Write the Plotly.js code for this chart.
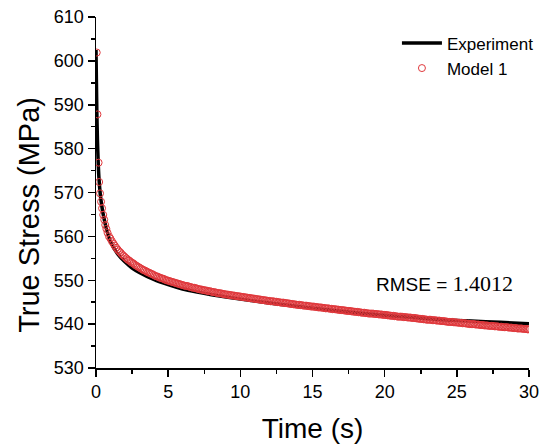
<!DOCTYPE html>
<html>
<head>
<meta charset="utf-8">
<script src="https://cdn.plot.ly/plotly-3.0.1.min.js"></script>
<style>html,body{margin:0;padding:0;background:#fff;}#chart{width:554px;height:447px;}</style>
</head>
<body>
<div id="chart"></div>
<script>
// Experiment curve
var expTime = [0, 0.03, 0.06, 0.1, 0.15, 0.2, 0.3, 0.4, 0.5, 0.7, 1.0, 1.5, 2, 2.5, 3, 4, 5, 6, 7, 8, 10, 12, 14, 16, 18, 20, 22, 24, 26, 28, 30];
var expStress = [602.5, 595, 588, 582, 577, 573.5, 569.5, 567, 565, 562, 558.8, 556.0, 554.2, 552.8, 551.8, 550.2, 549.0, 548.0, 547.3, 546.7, 545.7, 544.8, 544.0, 543.3, 542.6, 542.0, 541.5, 541.0, 540.7, 540.4, 540.1];

// Model 1 points
var modelTime = [0.05, 0.1, 0.18, 0.22, 0.28, 0.35, 0.42, 0.5, 0.57, 0.64, 0.72, 0.8, 0.9,
  1.0,1.1,1.2,1.3,1.4,1.5,1.6,1.7,1.8,1.9, 2.0,2.1,2.2,2.3,2.4,2.5,2.6,2.7,2.8,2.9,
  3.0,3.1,3.2,3.3,3.4,3.5,3.6,3.7,3.8,3.9, 4.0,4.1,4.2,4.3,4.4,4.5,4.6,4.7,4.8,4.9,
  5.0,5.1,5.2,5.3,5.4,5.5,5.6,5.7,5.8,5.9, 6.0,6.1,6.2,6.3,6.4,6.5,6.6,6.7,6.8,6.9,
  7.0,7.1,7.2,7.3,7.4,7.5,7.6,7.7,7.8,7.9, 8.0,8.1,8.2,8.3,8.4,8.5,8.6,8.7,8.8,8.9,
  9.0,9.1,9.2,9.3,9.4,9.5,9.6,9.7,9.8,9.9, 10.0,10.1,10.2,10.3,10.4,10.5,10.6,10.7,10.8,10.9,
  11.0,11.1,11.2,11.3,11.4,11.5,11.6,11.7,11.8,11.9, 12.0,12.1,12.2,12.3,12.4,12.5,12.6,12.7,12.8,12.9,
  13.0,13.1,13.2,13.3,13.4,13.5,13.6,13.7,13.8,13.9, 14.0,14.1,14.2,14.3,14.4,14.5,14.6,14.7,14.8,14.9,
  15.0,15.1,15.2,15.3,15.4,15.5,15.6,15.7,15.8,15.9, 16.0,16.1,16.2,16.3,16.4,16.5,16.6,16.7,16.8,16.9,
  17.0,17.1,17.2,17.3,17.4,17.5,17.6,17.7,17.8,17.9, 18.0,18.1,18.2,18.3,18.4,18.5,18.6,18.7,18.8,18.9,
  19.0,19.1,19.2,19.3,19.4,19.5,19.6,19.7,19.8,19.9, 20.0,20.1,20.2,20.3,20.4,20.5,20.6,20.7,20.8,20.9,
  21.0,21.1,21.2,21.3,21.4,21.5,21.6,21.7,21.8,21.9, 22.0,22.1,22.2,22.3,22.4,22.5,22.6,22.7,22.8,22.9,
  23.0,23.1,23.2,23.3,23.4,23.5,23.6,23.7,23.8,23.9, 24.0,24.1,24.2,24.3,24.4,24.5,24.6,24.7,24.8,24.9,
  25.0,25.1,25.2,25.3,25.4,25.5,25.6,25.7,25.8,25.9, 26.0,26.1,26.2,26.3,26.4,26.5,26.6,26.7,26.8,26.9,
  27.0,27.1,27.2,27.3,27.4,27.5,27.6,27.7,27.8,27.9, 28.0,28.1,28.2,28.3,28.4,28.5,28.6,28.7,28.8,28.9,
  29.0,29.1,29.2,29.3,29.4,29.5,29.6,29.7,29.8,29.9, 30.0];
var modelStress = [601.9, 587.8, 576.8, 572.4, 569.8, 567.9, 566.4, 564.9, 563.8, 562.6, 561.7, 560.8, 560.0,
  559.5,558.9,558.4,557.9,557.4,557.0,556.6,556.3,555.9,555.6, 555.3,555.0,554.7,554.5,554.2,554.0,553.8,553.5,553.3,553.1,
  552.9,552.7,552.5,552.3,552.2,552.0,551.8,551.7,551.5,551.4, 551.2,551.0,550.9,550.8,550.6,550.5,550.4,550.3,550.1,550.0,
  549.9,549.8,549.7,549.6,549.5,549.4,549.3,549.2,549.1,549.0, 548.9,548.8,548.7,548.7,548.6,548.5,548.4,548.3,548.3,548.2,
  548.1,548.0,547.9,547.9,547.8,547.7,547.7,547.6,547.5,547.5, 547.4,547.3,547.3,547.2,547.1,547.1,547.0,547.0,546.9,546.8,
  546.8,546.7,546.7,546.6,546.6,546.5,546.5,546.4,546.4,546.3, 546.3,546.2,546.2,546.1,546.1,546.0,546.0,545.9,545.9,545.8,
  545.8,545.7,545.7,545.6,545.6,545.5,545.5,545.4,545.4,545.3, 545.3,545.2,545.2,545.2,545.1,545.1,545.0,545.0,544.9,544.9,
  544.9,544.8,544.8,544.7,544.7,544.6,544.6,544.5,544.5,544.4, 544.4,544.4,544.3,544.3,544.2,544.2,544.2,544.1,544.1,544.0,
  544.0,544.0,543.9,543.9,543.8,543.8,543.8,543.7,543.7,543.6, 543.6,543.6,543.5,543.5,543.4,543.4,543.4,543.3,543.3,543.2,
  543.2,543.2,543.1,543.1,543.0,543.0,543.0,542.9,542.9,542.8, 542.8,542.8,542.7,542.7,542.6,542.6,542.6,542.5,542.5,542.4,
  542.4,542.4,542.4,542.3,542.3,542.3,542.2,542.2,542.2,542.1, 542.1,542.1,542.0,542.0,541.9,541.9,541.9,541.8,541.8,541.7,
  541.7,541.7,541.7,541.6,541.6,541.6,541.5,541.5,541.5,541.4, 541.4,541.4,541.3,541.3,541.2,541.2,541.2,541.1,541.1,541.0,
  541.0,541.0,541.0,540.9,540.9,540.9,540.8,540.8,540.8,540.7, 540.7,540.7,540.6,540.6,540.5,540.5,540.5,540.5,540.4,540.4,
  540.4,540.3,540.3,540.3,540.2,540.2,540.2,540.1,540.1,540.0, 540.0,540.0,540.0,539.9,539.9,539.9,539.8,539.8,539.8,539.7,
  539.7,539.7,539.6,539.6,539.6,539.6,539.5,539.5,539.5,539.4, 539.4,539.4,539.3,539.3,539.3,539.3,539.2,539.2,539.2,539.1,
  539.1,539.1,539.0,539.0,539.0,539.0,538.9,538.9,538.9,538.8, 538.8];

var xTicks = [0, 5, 10, 15, 20, 25, 30];
var yTicks = [530, 540, 550, 560, 570, 580, 590, 600, 610];
var xTitle = 'Time (s)';
var yTitle = 'True Stress (MPa)';
var rmseLabel = 'RMSE = ';
var rmseValue = '1.4012';

var FONT = 'Liberation Sans, Arial, sans-serif';

var traces = [
  {
    x: expTime, y: expStress, name: 'Experiment', type: 'scatter', mode: 'lines',
    line: {color: '#000000', width: 3.5, shape: 'spline', smoothing: 0.6}
  },
  {
    x: modelTime, y: modelStress, name: 'Model 1', type: 'scatter', mode: 'markers',
    marker: {symbol: 'circle-open', size: 7, color: '#e0383c', line: {width: 1, color: '#e0383c'}}
  }
];

var layout = {
  width: 554, height: 447,
  margin: {l: 96, r: 25, t: 17, b: 79},
  paper_bgcolor: '#ffffff', plot_bgcolor: '#ffffff',
  font: {family: FONT, color: '#000000', size: 18},
  showlegend: true,
  legend: {x: 0.695, y: 0.976, xanchor: 'left', yanchor: 'top', bgcolor: 'rgba(0,0,0,0)',
    font: {family: FONT, size: 17, color: '#000'}, tracegroupgap: 0, itemwidth: 40},
  xaxis: {
    range: [0, 30], tickvals: xTicks, ticktext: xTicks.map(String),
    ticks: 'outside', ticklen: 7, tickwidth: 1.5, tickcolor: '#000',
    showline: true, linewidth: 1.5, linecolor: '#000', showgrid: false, zeroline: false,
    minor: {dtick: 2.5, tick0: 0, ticks: 'outside', ticklen: 4, tickwidth: 1.5, tickcolor: '#000', showgrid: false},
    tickfont: {family: FONT, size: 18},
    title: {text: xTitle, font: {family: FONT, size: 28}, standoff: 17}
  },
  yaxis: {
    range: [530, 610], tickvals: yTicks, ticktext: yTicks.map(String),
    ticks: 'outside', ticklen: 7, tickwidth: 1.5, tickcolor: '#000',
    showline: true, linewidth: 1.5, linecolor: '#000', showgrid: false, zeroline: false,
    minor: {dtick: 5, tick0: 530, ticks: 'outside', ticklen: 4, tickwidth: 1.5, tickcolor: '#000', showgrid: false},
    tickfont: {family: FONT, size: 18}
  },
  annotations: [
    {
      xref: 'paper', yref: 'paper', x: -0.155, y: 0.436, xanchor: 'center', yanchor: 'middle', showarrow: false,
      textangle: -90, text: yTitle, font: {family: FONT, size: 29, color: '#000'}
    },
    {
      xref: 'paper', yref: 'paper', x: 0.967, y: 0.241, xanchor: 'right', yanchor: 'middle', showarrow: false,
      text: rmseLabel + '<span style="font-family:Liberation Serif, Times New Roman, serif;font-size:22px">' + rmseValue + '</span>',
      font: {family: FONT, size: 19, color: '#000'}
    }
  ]
};

Plotly.newPlot('chart', traces, layout, {displayModeBar: false, staticPlot: true});
</script>
</body>
</html>
